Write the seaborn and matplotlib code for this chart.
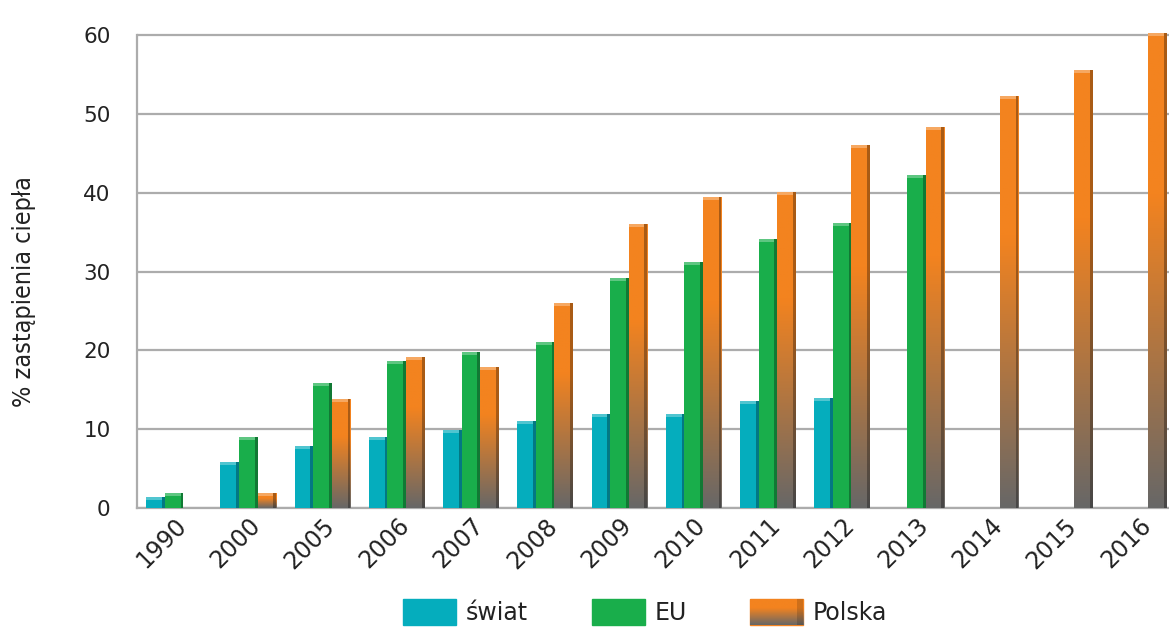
import numpy as np
import pandas as pd
import matplotlib.pyplot as plt
import matplotlib.transforms as mtransforms
from matplotlib.patches import Rectangle
from matplotlib.colors import LinearSegmentedColormap
import seaborn as sns

# data
years = ["1990", "2000", "2005", "2006", "2007", "2008", "2009",
         "2010", "2011", "2012", "2013", "2014", "2015", "2016"]
swiat = [1.4, 5.8, 7.9, 9.0, 9.9, 11.0, 11.9, 11.9, 13.6, 14.0, None, None, None, None]
eu = [1.9, 9.0, 15.8, 18.7, 19.8, 21.1, 29.2, 31.2, 34.1, 36.2, 42.3, None, None, None]
polska = [None, 1.9, 13.8, 19.2, 17.9, 26.0, 36.0, 39.5, 40.1, 46.1, 48.3, 52.2, 55.5, 60.2]
series = ["świat", "EU", "Polska"]
colors = {"świat": "#05adbd", "EU": "#19ae4b", "Polska": "#f3831f"}

df = pd.DataFrame({"rok": years, "świat": swiat, "EU": eu, "Polska": polska})
df = df.melt(id_vars="rok", var_name="seria", value_name="wartosc").dropna()

sns.set_style("white")
plt.rcParams["font.family"] = ["DejaVu Sans"]

fig = plt.figure(figsize=(11.69, 6.32), dpi=100)
ax = fig.add_axes([137 / 1169, 1 - 508 / 632, 1039 / 1169, 473 / 632 * 61 / 60])

sns.barplot(data=df, x="rok", y="wartosc", hue="seria", order=years,
            hue_order=series, palette=colors, width=0.75, gap=0,
            saturation=1, ax=ax, legend=False, zorder=3,
            linewidth=0, edgecolor="none")

ax.set_xlim(-0.5, len(years) - 0.5)
ax.set_ylim(0, 61)
ax.set_yticks(range(0, 61, 10))
ax.yaxis.grid(True, color="#acacac", lw=1.6, zorder=0)
ax.set_axisbelow(True)
for s in ["top", "right"]:
    ax.spines[s].set_visible(False)
for s in ["left", "bottom"]:
    ax.spines[s].set_color("#acacac")
    ax.spines[s].set_linewidth(1.6)
ax.spines["left"].set_bounds(0, 60)

ax.set_xlabel("")
ax.set_ylabel("% zastąpienia ciepła", fontsize=18, color="#222222",
              fontstretch="condensed")
ax.yaxis.set_label_coords(-0.097, 0.45)

ax.tick_params(axis="y", length=7, width=1.5, color="#acacac", pad=12,
               labelsize=15.5, labelcolor="#222222")
ax.set_xticks(np.arange(-0.5, len(years)), minor=True)
ax.tick_params(axis="x", which="minor", length=7, width=1.5, color="#acacac")
ax.tick_params(axis="x", which="major", length=0, pad=4,
               labelsize=17, labelcolor="#222222")
offset = mtransforms.ScaledTranslation(0.17, 0, fig.dpi_scale_trans)
for lab in ax.get_xticklabels():
    lab.set_rotation(45)
    lab.set_ha("right")
    lab.set_va("top")
    lab.set_transform(lab.get_transform() + offset)

# gradient for Polska bars, shading on all bars
grad_cmap = LinearSegmentedColormap.from_list(
    "pl", [(0, "#676767"), (0.66, colors["Polska"]), (1, colors["Polska"])])
grad = np.linspace(0, 1, 256).reshape(-1, 1)
px = 60 / 473
for cont, name in zip(ax.containers, series):
    for p in cont:
        x0, w, h = p.get_x(), p.get_width(), p.get_height()
        if name == "Polska":
            im = ax.imshow(grad, cmap=grad_cmap, origin="lower", aspect="auto",
                           extent=[x0, x0 + w, 0, h], zorder=3.5)
            im.set_clip_path(p)
        ax.add_patch(Rectangle((x0 + w * 0.85, 0), w * 0.15, h, color="black",
                               alpha=0.3, lw=0, zorder=4))
        ax.add_patch(Rectangle((x0, h - 3 * px), w * 0.85, 3 * px, color="white",
                               alpha=0.3, lw=0, zorder=4))

handles = [Rectangle((0, 0), 1, 1, color=colors[s]) for s in series]
leg = fig.legend(handles, series, loc="center", bbox_to_anchor=(0.552, 1 - 612 / 632),
                 ncol=3, frameon=False, fontsize=17, handlelength=2.25,
                 handleheight=1.3, handletextpad=0.4, columnspacing=2.7)
for t in leg.get_texts():
    t.set_color("#222222")

# gradient on the Polska legend key
fig.canvas.draw()
bb = leg.get_patches()[2].get_window_extent().transformed(fig.transFigure.inverted())
kax = fig.add_axes([bb.x0, bb.y0, bb.width, bb.height])
kax.set_zorder(10)
kax.imshow(grad, cmap=grad_cmap, origin="lower", aspect="auto")
kax.add_patch(Rectangle((0.88, 0), 0.12, 1, transform=kax.transAxes, color="black",
                        alpha=0.15, lw=0))
kax.set_axis_off()

fig.savefig("out.png", dpi=100)
